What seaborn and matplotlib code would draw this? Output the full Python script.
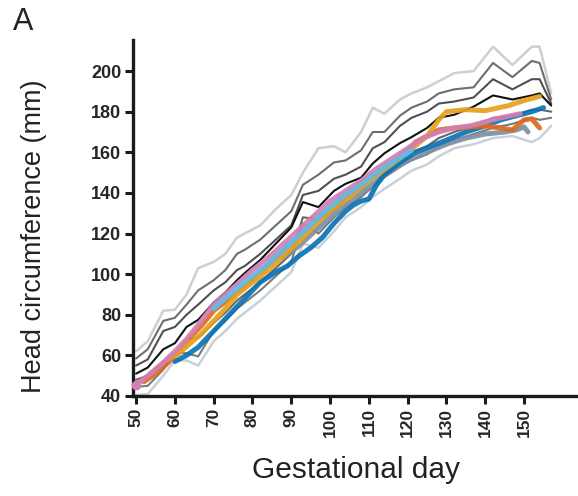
import numpy as np
import pandas as pd
import matplotlib
matplotlib.use("Agg")
import matplotlib.pyplot as plt
import seaborn as sns

sns.set_style("ticks")
plt.rcParams["font.family"] = ["Liberation Sans", "DejaVu Sans"]

# Reference growth centiles (shared gestational-day grid)
ref_days = [50, 53, 57, 60, 63, 66, 70, 73, 76, 78, 82, 86, 90, 93, 97, 101,
            104, 108, 111, 114, 118, 121, 125, 128, 132, 137, 142, 147, 152, 154, 157]
ref_upper3 = [62, 67, 82, 82.5, 90, 103, 106, 110, 118, 120, 124, 132, 139, 150, 162, 163,
              160, 170, 182, 179, 186, 189, 192, 195, 199, 200, 212, 203, 212, 212, 189]
ref_upper2 = [58.5, 63, 77, 78.5, 85, 92, 97, 102, 110, 112, 117, 124, 131, 144, 149, 155,
              156, 161, 170, 170, 178, 182, 185, 189, 191, 192, 204, 197, 205, 204, 186]
ref_upper1 = [55, 58, 72, 74, 80, 85, 92, 96, 102, 104, 110, 117, 124, 139, 141, 147,
              149, 153, 162, 165, 173, 177, 180, 184, 185, 187, 196, 191, 196, 196, 184]
ref_median = [51, 54, 63, 66, 74, 77.5, 86, 91, 97, 100.5, 107, 115, 123, 135.5, 133, 141,
              144.5, 147.5, 154.5, 159.5, 164.5, 167.5, 172, 177, 178.5, 182.5, 188, 186, 188, 189, 183]
ref_lower1 = [48, 50, 57, 60, 68, 68.5, 76, 81, 87, 90, 96, 103, 110, 128, 127, 131,
              137, 142, 148, 152, 157, 160, 163, 167, 170, 173, 177, 178, 181, 181, 180]
ref_lower2 = [44.5, 45, 53, 61.5, 61, 59.5, 72, 77, 83, 86, 92, 99, 106, 125, 120, 128,
              133, 138, 143, 148, 153, 156, 159, 163, 166, 169, 172, 174, 177, 176, 177]
ref_lower3 = [40.5, 41, 50, 57.5, 57.5, 55, 67, 72, 78, 81, 87, 94, 101, 115, 113, 121,
              128, 133, 138, 142, 147, 151, 154, 158, 162, 164, 167, 168, 165, 167, 173]

# Individual fetuses
pink_days = [50, 53, 57, 60, 63, 66, 70, 73, 76, 80, 84, 88, 92, 96, 100, 104, 108,
             112, 116, 120, 124, 128, 132, 136, 140, 144, 149]
pink_vals = [45.5, 50, 56.5, 62, 68, 75, 85, 90, 95, 102, 108, 115, 122, 129, 136, 141, 146,
             152, 157, 162, 167, 170, 172, 173, 175, 177, 179]

skyblue_days = [70, 73, 76, 80, 84, 88, 92, 96, 100, 104, 108, 112, 116, 121]
skyblue_vals = [83, 88, 93, 99, 105, 112, 119, 126, 133, 139, 144, 150, 155, 161]

blue_days = [60, 63, 66, 70, 74, 78, 82, 86, 89, 92, 95, 98, 101, 104, 106, 108, 110,
             112, 114, 118, 122, 126, 130, 135, 140, 144, 148, 152, 155]
blue_vals = [57, 60, 64, 72, 80, 88, 96, 101, 104, 109, 113, 118, 125, 131, 134, 136, 137,
             144, 149, 155, 160, 163, 166, 170, 173, 176, 178, 180, 182]

orange_days = [58, 61, 64, 67, 70, 73, 76, 80, 84, 88, 92, 96, 100, 105, 110, 115, 120,
               125, 128, 130, 135, 140, 146, 150, 154]
orange_vals = [58, 61, 66, 71, 77, 83, 90, 96, 102, 109, 116, 124, 131, 138, 146, 153, 160,
               168, 176, 180, 181, 180.5, 183, 185.5, 187.5]

vermil_days = [52, 55, 58, 61, 64, 67, 70, 74, 78, 82, 86, 90, 95, 100, 104, 108, 112,
               116, 120, 122, 125, 128, 132, 136, 140, 144, 147, 150, 152, 154]
vermil_vals = [47, 51, 56, 62, 69, 75, 82, 88, 94, 101, 108, 115, 124, 132, 139, 145, 149,
               155, 161, 165, 168, 171, 172, 172.5, 173, 172, 171, 176, 176.5, 172]

slate_days = [88, 92, 96, 100, 104, 108, 112, 116, 120, 125, 130, 135, 140, 145, 148, 150, 151]
slate_vals = [108, 114, 121, 128, 134, 140, 146, 151, 156, 160, 164, 167, 169, 170, 171, 172.5, 170]

x_ticks = [50, 60, 70, 80, 90, 100, 110, 120, 130, 140, 150]
y_ticks = [40, 60, 80, 100, 120, 140, 160, 180, 200]

fig = plt.figure(figsize=(5.78, 4.96), dpi=100)
ax = fig.add_axes([133 / 578, 100 / 496, 445 / 578, 356 / 496])

# centile curves: outer light, two greys, black median
centiles = [
    (ref_upper3, "#c9d1d6", 1.8), (ref_lower3, "#c9d1d6", 1.8),
    (ref_upper2, "#6e6e6e", 1.5), (ref_lower2, "#7a7a7a", 1.5),
    (ref_upper1, "#505050", 1.5), (ref_lower1, "#666666", 1.5),
    (ref_median, "#111111", 1.5),
]
for vals, col, lw in centiles:
    sns.lineplot(x=ref_days, y=vals, ax=ax, color=col, lw=lw, estimator=None, sort=False,
                 zorder=2)

fetuses = [
    (slate_days, slate_vals, "#7d8fa6"),
    (blue_days, blue_vals, "#0a72b5"),
    (vermil_days, vermil_vals, "#dd6a1f"),
    (orange_days, orange_vals, "#e6a01c"),
    (pink_days, pink_vals, "#d27fb3"),
    (skyblue_days, skyblue_vals, "#62bbe8"),
]
for d, v, col in fetuses:
    sns.lineplot(x=d, y=v, ax=ax, color=col, lw=3.6, alpha=0.92, estimator=None,
                 sort=False, zorder=3, solid_capstyle="round", solid_joinstyle="round")
ax.plot(pink_days[0], pink_vals[0], "o", color="#d27fb3", ms=6, zorder=4, clip_on=False)

ax.set_xlim(49.2, 163.9)
ax.set_ylim(40, 215.3)
ax.set_xticks(x_ticks)
ax.set_yticks(y_ticks)
ax.set_xticklabels([str(t) for t in x_ticks], rotation=90, fontweight="bold", fontsize=12.5)
ax.set_yticklabels([str(t) for t in y_ticks], fontweight="bold", fontsize=13)
ax.tick_params(axis="both", length=6, width=2.2, color="#1a1a1a", pad=2.5)
for s in ["left", "bottom"]:
    ax.spines[s].set_linewidth(2.4)
    ax.spines[s].set_color("#1a1a1a")
sns.despine(ax=ax)

ax.set_xlabel("Gestational day", fontsize=21.5, labelpad=14, color="#222222")
ax.set_ylabel("Head circumference (mm)", fontsize=19.5, labelpad=20, color="#222222")
ax.yaxis.set_label_coords(-0.193, 0.45)
fig.text(13 / 578, 1 - 30 / 496, "A", fontsize=22, color="#222222", va="baseline")

fig.savefig("out.png", dpi=100)
